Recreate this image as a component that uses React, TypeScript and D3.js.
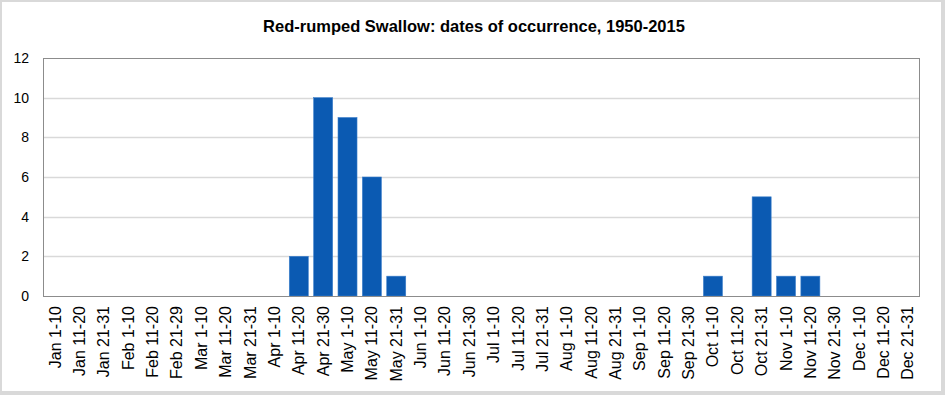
import React, { useEffect, useRef } from "react";
import * as d3 from "d3";

const categories = [
  "Jan 1-10", "Jan 11-20", "Jan 21-31",
  "Feb 1-10", "Feb 11-20", "Feb 21-29",
  "Mar 1-10", "Mar 11-20", "Mar 21-31",
  "Apr 1-10", "Apr 11-20", "Apr 21-30",
  "May 1-10", "May 11-20", "May 21-31",
  "Jun 1-10", "Jun 11-20", "Jun 21-30",
  "Jul 1-10", "Jul 11-20", "Jul 21-31",
  "Aug 1-10", "Aug 11-20", "Aug 21-31",
  "Sep 1-10", "Sep 11-20", "Sep 21-30",
  "Oct 1-10", "Oct 11-20", "Oct 21-31",
  "Nov 1-10", "Nov 11-20", "Nov 21-30",
  "Dec 1-10", "Dec 11-20", "Dec 21-31",
];

const counts = [
  0, 0, 0,
  0, 0, 0,
  0, 0, 0,
  0, 2, 10,
  9, 6, 1,
  0, 0, 0,
  0, 0, 0,
  0, 0, 0,
  0, 0, 0,
  1, 0, 5,
  1, 1, 0,
  0, 0, 0,
];

const yTicks = [0, 2, 4, 6, 8, 10, 12];

const title = "Red-rumped Swallow: dates of occurrence, 1950-2015";

const W = 945;
const H = 395;
const margin = { left: 43, right: 25, top: 58, bottom: 99 };

export default function App() {
  const svgRef = useRef<SVGSVGElement>(null);

  useEffect(() => {
    const svg = d3.select(svgRef.current);
    svg.selectAll("*").remove();

    const font = "'Liberation Sans', Arial, sans-serif";

    // outer frame
    svg.append("rect").attr("width", W).attr("height", H).attr("fill", "#d9d9d9");
    svg.append("rect").attr("x", 2).attr("y", 2).attr("width", 939).attr("height", 389).attr("fill", "#fff");

    const x = d3
      .scaleBand()
      .domain(categories)
      .range([margin.left, W - margin.right])
      .paddingInner(0.22)
      .paddingOuter(0.11);

    const y = d3
      .scaleLinear()
      .domain([0, 12])
      .range([H - margin.bottom, margin.top]);

    // gridlines
    svg.append("g")
      .selectAll("line")
      .data(yTicks.filter(t => t > 0 && t < 12))
      .enter()
      .append("line")
      .attr("x1", margin.left)
      .attr("x2", W - margin.right)
      .attr("y1", d => Math.round(y(d)) + 0.5)
      .attr("y2", d => Math.round(y(d)) + 0.5)
      .attr("stroke", "#d9d9d9")
      .attr("stroke-width", 1.5);

    // bars
    svg.append("g")
      .selectAll("rect")
      .data(counts)
      .enter()
      .append("rect")
      .attr("x", (d, i) => x(categories[i]))
      .attr("y", d => y(d))
      .attr("width", x.bandwidth())
      .attr("height", d => y(0) - y(d))
      .attr("fill", "#0b5ab2")
      .attr("stroke", "#3c7fcb")
      .attr("stroke-width", 0.6);

    // plot border
    svg.append("rect")
      .attr("x", margin.left + 0.5)
      .attr("y", margin.top + 0.5)
      .attr("width", W - margin.right - margin.left - 1)
      .attr("height", H - margin.bottom - margin.top)
      .attr("fill", "none")
      .attr("stroke", "#8c8c8c")
      .attr("stroke-width", 1);

    // y axis labels
    svg.append("g")
      .selectAll("text")
      .data(yTicks)
      .enter()
      .append("text")
      .attr("x", 29)
      .attr("y", d => y(d) + 5)
      .attr("text-anchor", "end")
      .attr("font-family", font)
      .attr("font-size", 14)
      .attr("fill", "#000")
      .text(d => d);

    // x axis labels, rotated
    svg.append("g")
      .selectAll("text")
      .data(categories)
      .enter()
      .append("text")
      .attr("transform", d => `translate(${x(d)! + x.bandwidth() / 2 + 5.5},${H - margin.bottom + 10}) rotate(-90)`)
      .attr("text-anchor", "end")
      .attr("font-family", font)
      .attr("font-size", 16)
      .attr("fill", "#000")
      .text(d => d);

    // title
    svg.append("text")
      .attr("x", 474)
      .attr("y", 31.5)
      .attr("text-anchor", "middle")
      .attr("font-family", font)
      .attr("font-size", 16.5)
      .attr("font-weight", "bold")
      .attr("fill", "#000")
      .text(title);
  }, []);

  return (
    <svg
      ref={svgRef}
      width={W}
      height={H}
      style={{ position: "absolute", left: 0, top: 0, display: "block" }}
    />
  );
}
